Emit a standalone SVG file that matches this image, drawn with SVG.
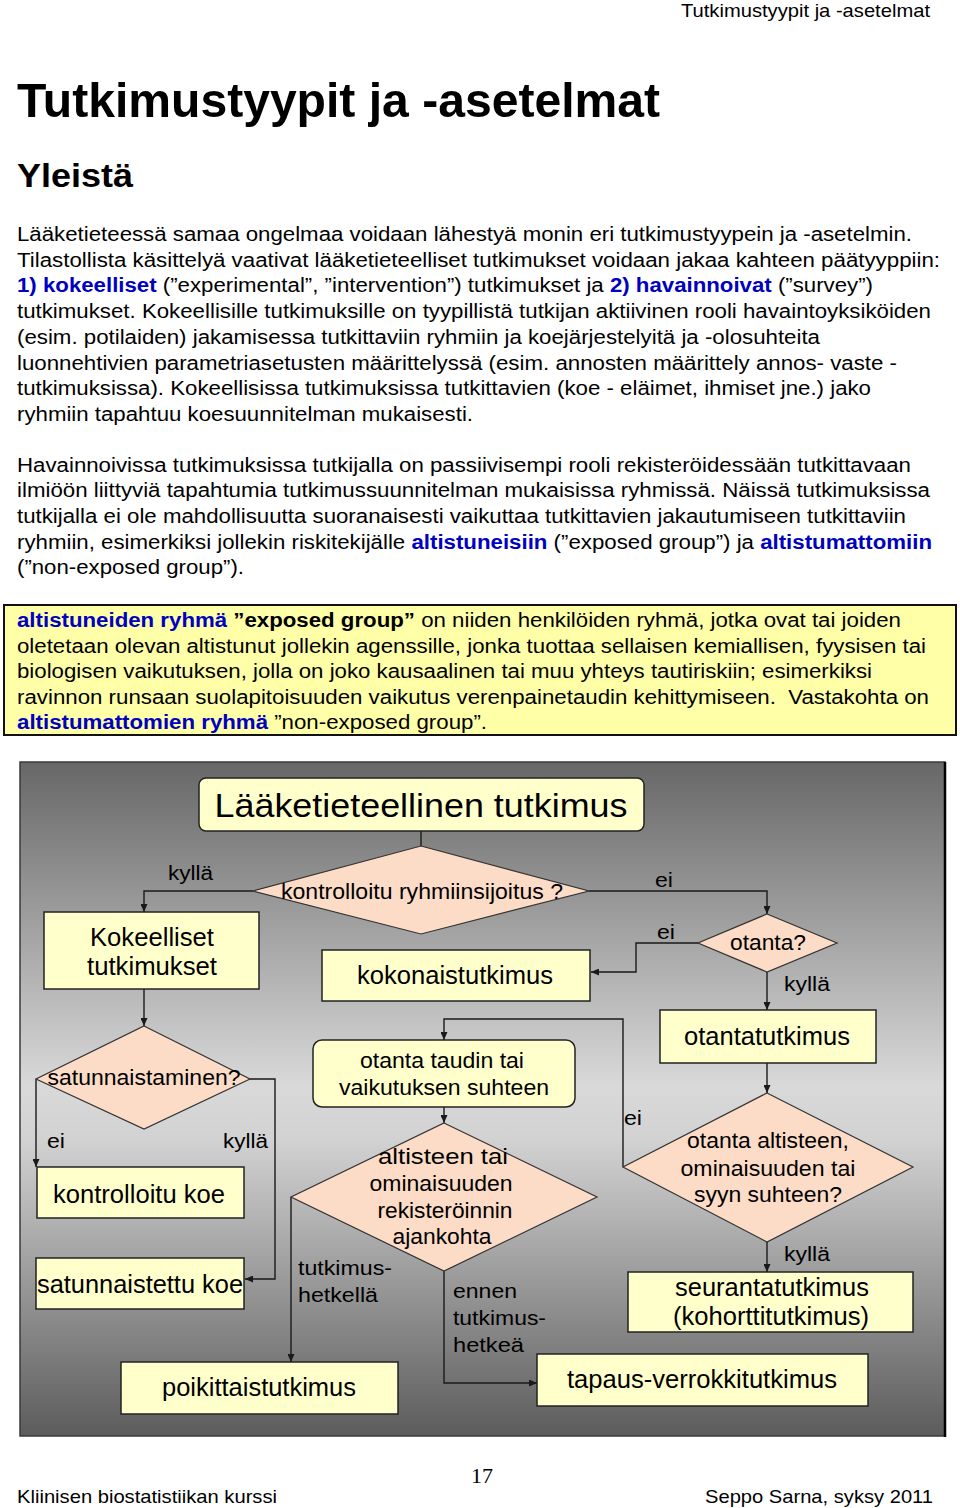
<svg xmlns="http://www.w3.org/2000/svg" width="960" height="1508" viewBox="0 0 960 1508">
<style>
text{font-family:"Liberation Sans",Arial,sans-serif;fill:#000}
.p{font-size:20px}
.b{font-weight:bold;fill:#0000c0}
.bk{font-weight:bold}
.box{fill:#ffffcc;stroke:#222;stroke-width:1.5}
.dia{fill:#fcdcc6;stroke:#333;stroke-width:1.2}
.nt{font-size:25px;text-anchor:middle}
.dt{font-size:22px;text-anchor:middle}
.lb{font-size:20px}
.c{fill:none;stroke:#1a1a1a;stroke-width:1.4}
</style>
<defs>
<linearGradient id="bg" x1="0" y1="0" x2="0" y2="1">
<stop offset="0" stop-color="#676767"/>
<stop offset="0.48" stop-color="#d9d9d9"/>
<stop offset="0.56" stop-color="#d2d2d2"/>
<stop offset="1" stop-color="#5c5c5c"/>
</linearGradient>
<marker id="ar" markerUnits="userSpaceOnUse" markerWidth="8" markerHeight="7" viewBox="0 0 8 7" refX="8" refY="3.5" orient="auto">
<path d="M0,0 L8,3.5 L0,7 z" fill="#1a1a1a"/>
</marker>
</defs>
<rect width="960" height="1508" fill="#fff"/>

<g id="page-text">
<text x="930" y="17" font-size="19" text-anchor="end" textLength="249" lengthAdjust="spacingAndGlyphs">Tutkimustyypit ja -asetelmat</text>
<text x="17" y="117" font-size="49" font-weight="bold" textLength="643" lengthAdjust="spacingAndGlyphs">Tutkimustyypit ja -asetelmat</text>
<text x="17" y="187" font-size="34" font-weight="bold" textLength="116" lengthAdjust="spacingAndGlyphs">Yleistä</text>

<text class="p" x="17" y="241" textLength="895" lengthAdjust="spacingAndGlyphs">Lääketieteessä samaa ongelmaa voidaan lähestyä monin eri tutkimustyypein ja -asetelmin.</text>
<text class="p" x="17" y="266.7" textLength="923" lengthAdjust="spacingAndGlyphs">Tilastollista käsittelyä vaativat lääketieteelliset tutkimukset voidaan jakaa kahteen päätyyppiin:</text>
<text class="p" x="17" y="292.4" textLength="856" lengthAdjust="spacingAndGlyphs"><tspan class="b">1) kokeelliset</tspan> (”experimental”, ”intervention”) tutkimukset ja <tspan class="b">2) havainnoivat</tspan> (”survey”)</text>
<text class="p" x="17" y="318.1" textLength="914" lengthAdjust="spacingAndGlyphs">tutkimukset. Kokeellisille tutkimuksille on tyypillistä tutkijan aktiivinen rooli havaintoyksiköiden</text>
<text class="p" x="17" y="343.8" textLength="803" lengthAdjust="spacingAndGlyphs">(esim. potilaiden) jakamisessa tutkittaviin ryhmiin ja koejärjestelyitä ja -olosuhteita</text>
<text class="p" x="17" y="369.5" textLength="880" lengthAdjust="spacingAndGlyphs">luonnehtivien parametriasetusten määrittelyssä (esim. annosten määrittely annos- vaste -</text>
<text class="p" x="17" y="395.2" textLength="854" lengthAdjust="spacingAndGlyphs">tutkimuksissa). Kokeellisissa tutkimuksissa tutkittavien (koe - eläimet, ihmiset jne.) jako</text>
<text class="p" x="17" y="420.9" textLength="456" lengthAdjust="spacingAndGlyphs">ryhmiin tapahtuu koesuunnitelman mukaisesti.</text>

<text class="p" x="17" y="471.5" textLength="894" lengthAdjust="spacingAndGlyphs">Havainnoivissa tutkimuksissa tutkijalla on passiivisempi rooli rekisteröidessään tutkittavaan</text>
<text class="p" x="17" y="497.2" textLength="913" lengthAdjust="spacingAndGlyphs">ilmiöön liittyviä tapahtumia tutkimussuunnitelman mukaisissa ryhmissä. Näissä tutkimuksissa</text>
<text class="p" x="17" y="522.9" textLength="889" lengthAdjust="spacingAndGlyphs">tutkijalla ei ole mahdollisuutta suoranaisesti vaikuttaa tutkittavien jakautumiseen tutkittaviin</text>
<text class="p" x="17" y="548.6" textLength="915" lengthAdjust="spacingAndGlyphs">ryhmiin, esimerkiksi jollekin riskitekijälle <tspan class="b">altistuneisiin</tspan> (”exposed group”) ja <tspan class="b">altistumattomiin</tspan></text>
<text class="p" x="17" y="574.3" textLength="227" lengthAdjust="spacingAndGlyphs">(”non-exposed group”).</text>
</g>

<g id="definition-box">
<rect x="4" y="605" width="952" height="130" fill="#ffffa8" stroke="#111" stroke-width="2"/>
<text class="p" x="17" y="627" textLength="884" lengthAdjust="spacingAndGlyphs"><tspan class="b">altistuneiden ryhmä</tspan> <tspan class="bk">”exposed group”</tspan> on niiden henkilöiden ryhmä, jotka ovat tai joiden</text>
<text class="p" x="17" y="652.5" textLength="909" lengthAdjust="spacingAndGlyphs">oletetaan olevan altistunut jollekin agenssille, jonka tuottaa sellaisen kemiallisen, fyysisen tai</text>
<text class="p" x="17" y="678" textLength="855" lengthAdjust="spacingAndGlyphs">biologisen vaikutuksen, jolla on joko kausaalinen tai muu yhteys tautiriskiin; esimerkiksi</text>
<text class="p" x="17" y="703.5" textLength="912" lengthAdjust="spacingAndGlyphs">ravinnon runsaan suolapitoisuuden vaikutus verenpainetaudin kehittymiseen.&#160; Vastakohta on</text>
<text class="p" x="17" y="729" textLength="470" lengthAdjust="spacingAndGlyphs"><tspan class="b">altistumattomien ryhmä</tspan> ”non-exposed group”.</text>
</g>

<g id="diagram-bg">
<rect x="20" y="762" width="925" height="674" fill="url(#bg)" stroke="#3a3a3a" stroke-width="1.5"/>
<line x1="945" y1="762" x2="945" y2="1437" stroke="#000" stroke-width="2.5"/>
</g>

<g id="connectors">
<path class="c" d="M421,831 V846"/>
<path class="c" d="M253,891 H144 V912" marker-end="url(#ar)"/>
<path class="c" d="M589,891 H767 V914" marker-end="url(#ar)"/>
<path class="c" d="M698,943 H636 V972 H591" marker-end="url(#ar)"/>
<path class="c" d="M767,972 V1010" marker-end="url(#ar)"/>
<path class="c" d="M767,1063 V1093" marker-end="url(#ar)"/>
<path class="c" d="M623,1167 V1019 H444 V1040" marker-end="url(#ar)"/>
<path class="c" d="M444,1107 V1123" marker-end="url(#ar)"/>
<path class="c" d="M291,1197 V1362" marker-end="url(#ar)"/>
<path class="c" d="M444,1271 V1383 H537" marker-end="url(#ar)"/>
<path class="c" d="M144,989 V1026" marker-end="url(#ar)"/>
<path class="c" d="M36,1079 V1167" marker-end="url(#ar)"/>
<path class="c" d="M250,1079 H275 V1279 H245" marker-end="url(#ar)"/>
<path class="c" d="M767,1242 V1272" marker-end="url(#ar)"/>
<text class="lb" x="168" y="880" textLength="45" lengthAdjust="spacingAndGlyphs">kyllä</text>
<text class="lb" x="655" y="887" textLength="18" lengthAdjust="spacingAndGlyphs">ei</text>
<text class="lb" x="657" y="939" textLength="18" lengthAdjust="spacingAndGlyphs">ei</text>
<text class="lb" x="784" y="991" textLength="46" lengthAdjust="spacingAndGlyphs">kyllä</text>
<text class="lb" x="624" y="1125" textLength="18" lengthAdjust="spacingAndGlyphs">ei</text>
<text class="lb" x="47" y="1148" textLength="18" lengthAdjust="spacingAndGlyphs">ei</text>
<text class="lb" x="223" y="1148" textLength="45" lengthAdjust="spacingAndGlyphs">kyllä</text>
<text class="lb" x="298" y="1275" textLength="94" lengthAdjust="spacingAndGlyphs">tutkimus-</text>
<text class="lb" x="298" y="1302" textLength="80" lengthAdjust="spacingAndGlyphs">hetkellä</text>
<text class="lb" x="453" y="1298" textLength="64" lengthAdjust="spacingAndGlyphs">ennen</text>
<text class="lb" x="453" y="1325" textLength="93" lengthAdjust="spacingAndGlyphs">tutkimus-</text>
<text class="lb" x="453" y="1352" textLength="71" lengthAdjust="spacingAndGlyphs">hetkeä</text>
<text class="lb" x="784" y="1261" textLength="46" lengthAdjust="spacingAndGlyphs">kyllä</text>
</g>

<g id="n-laaketieteellinen">
<rect class="box" x="199" y="778" width="445" height="53" rx="7"/>
<text x="421" y="817" font-size="34" text-anchor="middle" textLength="413" lengthAdjust="spacingAndGlyphs">Lääketieteellinen tutkimus</text>
</g>
<g id="n-kontrolloitu-ryhmiinsijoitus">
<polygon class="dia" points="421,846 589,891 421,934 253,891"/>
<text class="dt" x="422" y="899" textLength="282" lengthAdjust="spacingAndGlyphs">kontrolloitu ryhmiinsijoitus ?</text>
</g>
<g id="n-kokeelliset">
<rect class="box" x="44" y="912" width="215" height="77"/>
<text class="nt" x="152" y="946" textLength="124" lengthAdjust="spacingAndGlyphs">Kokeelliset</text>
<text class="nt" x="152" y="975" textLength="130" lengthAdjust="spacingAndGlyphs">tutkimukset</text>
</g>
<g id="n-kokonaistutkimus">
<rect class="box" x="322" y="950" width="268" height="51"/>
<text class="nt" x="455" y="984" textLength="196" lengthAdjust="spacingAndGlyphs">kokonaistutkimus</text>
</g>
<g id="n-otanta">
<polygon class="dia" points="767,914 837,943 767,972 698,943"/>
<text class="dt" x="768" y="950" textLength="76" lengthAdjust="spacingAndGlyphs">otanta?</text>
</g>
<g id="n-otantatutkimus">
<rect class="box" x="660" y="1010" width="216" height="53"/>
<text class="nt" x="767" y="1045" textLength="166" lengthAdjust="spacingAndGlyphs">otantatutkimus</text>
</g>
<g id="n-otanta-altisteen">
<polygon class="dia" points="767,1093 913,1167 767,1242 623,1167"/>
<text class="dt" x="768" y="1148" textLength="162" lengthAdjust="spacingAndGlyphs">otanta altisteen,</text>
<text class="dt" x="768" y="1176" textLength="175" lengthAdjust="spacingAndGlyphs">ominaisuuden tai</text>
<text class="dt" x="768" y="1202" textLength="148" lengthAdjust="spacingAndGlyphs">syyn suhteen?</text>
</g>
<g id="n-otanta-taudin">
<rect class="box" x="313" y="1040" width="262" height="67" rx="9"/>
<text class="dt" x="442" y="1068" textLength="164" lengthAdjust="spacingAndGlyphs">otanta taudin tai</text>
<text class="dt" x="444" y="1095" textLength="210" lengthAdjust="spacingAndGlyphs">vaikutuksen suhteen</text>
</g>
<g id="n-ajankohta">
<polygon class="dia" points="444,1123 597,1197 444,1271 291,1197"/>
<text class="dt" x="443" y="1164" textLength="130" lengthAdjust="spacingAndGlyphs">altisteen tai</text>
<text class="dt" x="441" y="1191" textLength="143" lengthAdjust="spacingAndGlyphs">ominaisuuden</text>
<text class="dt" x="445" y="1218" textLength="135" lengthAdjust="spacingAndGlyphs">rekisteröinnin</text>
<text class="dt" x="442" y="1244" textLength="99" lengthAdjust="spacingAndGlyphs">ajankohta</text>
</g>
<g id="n-satunnaistaminen">
<polygon class="dia" points="144,1026 250,1079 144,1129 36,1079"/>
<text class="dt" x="144" y="1085" textLength="193" lengthAdjust="spacingAndGlyphs">satunnaistaminen?</text>
</g>
<g id="n-kontrolloitu-koe">
<rect class="box" x="37" y="1167" width="207" height="51"/>
<text class="nt" x="139" y="1203" textLength="172" lengthAdjust="spacingAndGlyphs">kontrolloitu koe</text>
</g>
<g id="n-satunnaistettu-koe">
<rect class="box" x="36" y="1258" width="208" height="51"/>
<text class="nt" x="140" y="1293" textLength="206" lengthAdjust="spacingAndGlyphs">satunnaistettu koe</text>
</g>
<g id="n-poikittaistutkimus">
<rect class="box" x="121" y="1362" width="277" height="52"/>
<text class="nt" x="259" y="1396" textLength="194" lengthAdjust="spacingAndGlyphs">poikittaistutkimus</text>
</g>
<g id="n-seurantatutkimus">
<rect class="box" x="628" y="1272" width="285" height="60"/>
<text class="nt" x="772" y="1296" textLength="194" lengthAdjust="spacingAndGlyphs">seurantatutkimus</text>
<text class="nt" x="771" y="1325" textLength="196" lengthAdjust="spacingAndGlyphs">(kohorttitutkimus)</text>
</g>
<g id="n-tapaus-verrokki">
<rect class="box" x="537" y="1354" width="331" height="52"/>
<text class="nt" x="702" y="1388" textLength="270" lengthAdjust="spacingAndGlyphs">tapaus-verrokkitutkimus</text>
</g>

<g id="footer">
<text x="482" y="1483" font-size="22" text-anchor="middle" style="font-family:'Liberation Serif',serif">17</text>
<text x="17" y="1503" font-size="19" textLength="260" lengthAdjust="spacingAndGlyphs">Kliinisen biostatistiikan kurssi</text>
<text x="933" y="1503" font-size="19" text-anchor="end" textLength="228" lengthAdjust="spacingAndGlyphs">Seppo Sarna, syksy 2011</text>
</g>
</svg>
